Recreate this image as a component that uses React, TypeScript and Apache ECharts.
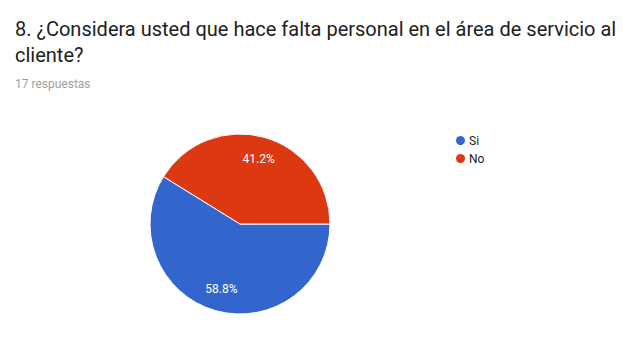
import React, { useEffect, useRef } from "react";
import * as echarts from "echarts";

const titleText = "8. ¿Considera usted que hace falta personal en el área de servicio al\ncliente?";
const subtitleText = "17 respuestas";
const categories = ["Si", "No"];
const values = [10, 7];
const colors = ["#3366cc", "#dc3912"];

export default function App() {
  const ref = useRef<HTMLDivElement>(null);
  useEffect(() => {
    if (!ref.current) return;
    const chart = echarts.init(ref.current, null, { renderer: "svg" });
    const data = categories.map((name, i) => ({ name, value: values[i], itemStyle: { color: colors[i] } }));
    const total = values.reduce((a, b) => a + b, 0);
    chart.setOption({
      animation: false,
      backgroundColor: "#ffffff",
      title: [
        {
          text: titleText,
          left: 10,
          top: 11,
          textStyle: { fontFamily: "Roboto", fontSize: 20, fontWeight: "normal", color: "#212121", lineHeight: 26 },
        },
        {
          text: subtitleText,
          left: 10,
          top: 73,
          textStyle: { fontFamily: "Roboto", fontSize: 12, fontWeight: "normal", color: "#9e9e9e" },
        },
      ],
      legend: {
        orient: "vertical",
        left: 449,
        top: 129,
        icon: "circle",
        itemWidth: 11,
        itemHeight: 11,
        itemGap: 5,
        data: categories,
        textStyle: { fontFamily: "Roboto", fontSize: 12, color: "#222222", padding: [0, 0, 0, -2] },
      },
      series: [
        {
          type: "pie",
          center: [240, 224],
          radius: [0, 90],
          startAngle: 0,
          clockwise: true,
          label: { show: false },
          labelLine: { show: false },
          itemStyle: { borderColor: "#ffffff", borderWidth: 1 },
          data,
        },
        {
          type: "pie",
          center: [240, 224],
          radius: [40, 90],
          startAngle: 0,
          clockwise: true,
          silent: true,
          itemStyle: { color: "transparent", borderWidth: 0 },
          labelLine: { show: false },
          label: {
            show: true,
            position: "inside",
            fontFamily: "Roboto",
            fontSize: 12,
            color: "#ffffff",
            formatter: (p: any) => ((p.value / total) * 100).toFixed(1) + "%",
          },
          emphasis: { disabled: true },
          legendHoverLink: false,
          data: categories.map((name, i) => ({ name, value: values[i] })),
        },
      ],
    });
    return () => chart.dispose();
  }, []);
  return <div ref={ref} style={{ position: "fixed", left: 0, top: 0, width: 628, height: 351 }} />;
}
